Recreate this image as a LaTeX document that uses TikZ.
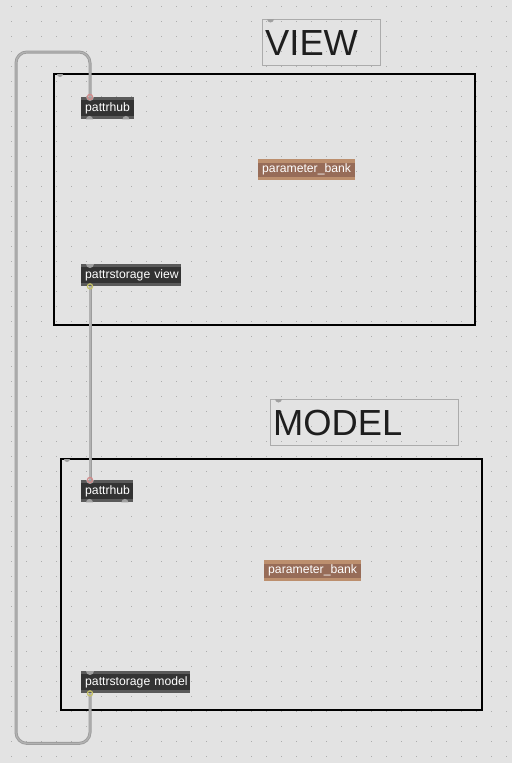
\documentclass[tikz,border=0pt]{standalone}
\usepackage{fontspec}
\setmainfont{Liberation Sans}
\definecolor{bgc}{HTML}{E3E3E3}
\definecolor{dotc}{HTML}{ADADAD}
\definecolor{objdark}{HTML}{333333}
\definecolor{objstrip}{HTML}{5A5A5A}
\definecolor{hump}{HTML}{A0A0A0}
\definecolor{parlight}{HTML}{BC8F6E}
\definecolor{pardark}{HTML}{976C58}
\definecolor{cmtborder}{HTML}{ABABAB}
\definecolor{cord}{HTML}{9C9C9C}
\definecolor{cordin}{HTML}{B2B2B2}
\definecolor{inring}{HTML}{D38A8A}
\definecolor{outring}{HTML}{C8C468}
\definecolor{cmttext}{HTML}{1E1E1E}
\tikzset{
  objbase/.style={anchor=north west, inner xsep=4pt, inner ysep=0pt, minimum height=22pt,
    text=white, font=\fontsize{12.2}{13}\selectfont, align=left},
  maxobj/.style={objbase, fill=objdark,
    path picture={
      \fill[objstrip] (path picture bounding box.north west) rectangle ([yshift=-3pt]path picture bounding box.north east);
      \fill[objstrip] (path picture bounding box.south west) rectangle ([yshift=3pt]path picture bounding box.south east);
    }},
  parobj/.style={objbase, minimum height=21pt, fill=pardark,
    path picture={
      \fill[parlight] (path picture bounding box.north west) rectangle ([yshift=-3.3pt]path picture bounding box.north east);
      \fill[parlight] (path picture bounding box.south west) rectangle ([yshift=3.3pt]path picture bounding box.south east);
    }},
  panel/.style={draw=black, line width=2pt, anchor=north west, inner sep=0pt},
  cmtbox/.style={draw=cmtborder, line width=1pt, anchor=north west, inner sep=0pt},
  cmt/.style={text=cmttext, font=\fontsize{36.3}{40}\selectfont, anchor=base west, inner sep=0pt},
  patch/.style={draw=cord, line width=3pt, postaction={draw=cordin, line width=1.3pt}},
}
\begin{document}
\begin{tikzpicture}[x=1pt,y=-1pt]
\useasboundingbox (0,0) rectangle (512,763);
\fill[bgc] (0,0) rectangle (512,763);
\foreach \i in {0,...,33}{
  \foreach \j in {0,...,50}{
    \fill[dotc] (11+15*\i-0.45,6+15*\j-0.45) rectangle ++(0.9,0.9);
  }
}
% panels
\node[panel, minimum width=421pt, minimum height=251pt] (viewpanel) at (53,73) {};
\node[panel, minimum width=421pt, minimum height=251pt] (modelpanel) at (60,458) {};
\fill[hump] ([xshift=4pt,yshift=-1pt]viewpanel.north west) arc[start angle=180,end angle=360,radius=3pt];
\fill[hump] ([xshift=4pt,yshift=-1pt]modelpanel.north west) arc[start angle=180,end angle=360,radius=3pt];
% comments
\node[cmtbox, minimum width=118pt, minimum height=46pt] (viewbox) at (262,19) {};
\node[cmt] (viewlabel) at (265,55.5) {VIEW};
\fill[hump] ([xshift=5pt]viewbox.north west) arc[start angle=180,end angle=360,radius=3.5pt];
\node[cmtbox, minimum width=188pt, minimum height=46pt] (modelbox) at (270,399) {};
\node[cmt] (modellabel) at (273,435.5) {MODEL};
\fill[hump] ([xshift=5pt]modelbox.north west) arc[start angle=180,end angle=360,radius=3.5pt];
% objects
\node[maxobj, text width=45pt] (phv) at (81,97) {\mbox{pattrhub}};
\node[maxobj, text width=92pt] (psv) at (81,264) {\mbox{pattrstorage view}};
\node[parobj, text width=89pt] (pbv) at (258,159) {\mbox{parameter\_bank}};
\node[maxobj, text width=44pt] (phm) at (81,480) {\mbox{pattrhub}};
\node[maxobj, text width=101pt] (psm) at (81,671) {\mbox{pattrstorage model}};
\node[parobj, text width=89pt] (pbm) at (264,560) {\mbox{parameter\_bank}};
% inlets / outlets
\foreach \n in {phv,psv,phm,psm}{
  \fill[hump] ([xshift=5pt]\n.north west) arc[start angle=180,end angle=360,radius=4pt];
}
\foreach \n in {phv,phm}{
  \fill[hump] ([xshift=5pt]\n.south west) arc[start angle=180,end angle=0,radius=3.5pt];
  \fill[hump] ([xshift=-12pt]\n.south east) arc[start angle=180,end angle=0,radius=3.5pt];
}
\coordinate (phvin) at ([xshift=9pt]phv.north west);
\coordinate (phmin) at ([xshift=9pt]phm.north west);
\coordinate (psvout) at ([xshift=9pt]psv.south west);
\coordinate (psmout) at ([xshift=9pt]psm.south west);
% connectors
\draw[patch, rounded corners=11pt] (psmout) -- ++(0,50) -| (16,52) -| (phvin);
\draw[patch] (psvout) -- (phmin);
\draw[inring, line width=1.2pt] (phvin) circle[radius=2.6pt];
\draw[inring, line width=1.2pt] (phmin) circle[radius=2.6pt];
\draw[outring, line width=1.2pt] (psvout) circle[radius=2.6pt];
\draw[outring, line width=1.2pt] (psmout) circle[radius=2.6pt];
\end{tikzpicture}
\end{document}
